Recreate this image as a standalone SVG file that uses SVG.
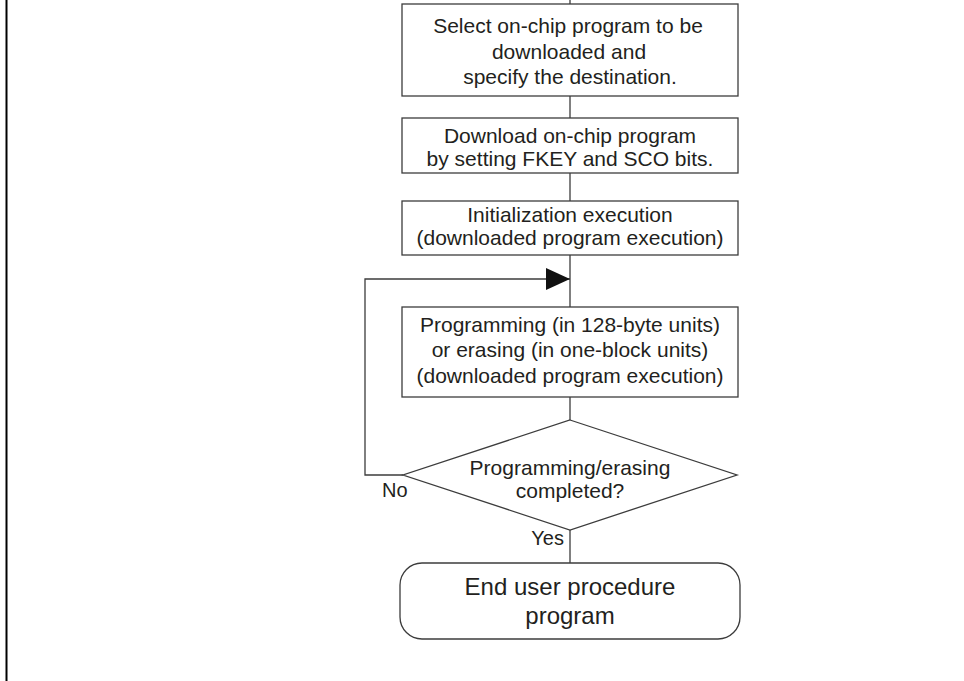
<svg xmlns="http://www.w3.org/2000/svg" width="964" height="681" viewBox="0 0 964 681">
<defs>
<style>
.box{fill:#fff;stroke:#3c3c3c;stroke-width:1.3}
.ln{fill:none;stroke:#3c3c3c;stroke-width:1.3}
.t{font-family:"Liberation Sans",Arial,sans-serif;font-size:21px;fill:#231f20;text-anchor:middle}
.lbl{font-family:"Liberation Sans",Arial,sans-serif;font-size:20px;fill:#231f20}
</style>
<marker id="arr" markerUnits="userSpaceOnUse" markerWidth="24" markerHeight="22" refX="24" refY="11" orient="auto">
<path d="M0,0 L24,11 L0,22 Z" fill="#111"/>
</marker>
</defs>
<rect width="964" height="681" fill="#fff"/>
<line x1="6.5" y1="0" x2="6.5" y2="681" stroke="#000" stroke-width="2"/>
<g id="connectors">
<line class="ln" x1="570" y1="0" x2="570" y2="4"/>
<line class="ln" x1="570" y1="96" x2="570" y2="118"/>
<line class="ln" x1="570" y1="173" x2="570" y2="201"/>
<line class="ln" x1="570" y1="255" x2="570" y2="307"/>
<line class="ln" x1="570" y1="397" x2="570" y2="420"/>
<line class="ln" x1="570" y1="530" x2="570" y2="563"/>
<polyline class="ln" points="403,475 365,475 365,279 570,279" marker-end="url(#arr)"/>
<text class="lbl" x="382" y="497">No</text>
<text class="lbl" x="564" y="545" text-anchor="end">Yes</text>
</g>
<g id="n1">
<rect class="box" x="402" y="4" width="336" height="92"/>
<text class="t" x="568" y="32.5">Select on-chip program to be</text>
<text class="t" x="569" y="58.5">downloaded and</text>
<text class="t" x="570" y="83.5">specify the destination.</text>
</g>
<g id="n2">
<rect class="box" x="402" y="118" width="336" height="55"/>
<text class="t" x="570" y="143">Download on-chip program</text>
<text class="t" x="570" y="166">by setting FKEY and SCO bits.</text>
</g>
<g id="n3">
<rect class="box" x="402" y="201" width="336" height="54"/>
<text class="t" x="570" y="222">Initialization execution</text>
<text class="t" x="570" y="245">(downloaded program execution)</text>
</g>
<g id="n4">
<rect class="box" x="402" y="307" width="336" height="90"/>
<text class="t" x="570" y="332">Programming (in 128-byte units)</text>
<text class="t" x="570" y="357">or erasing (in one-block units)</text>
<text class="t" x="570" y="383">(downloaded program execution)</text>
</g>
<g id="n5">
<polygon class="box" points="570,420 737,475 570,530 403,475"/>
<text class="t" x="570" y="475">Programming/erasing</text>
<text class="t" x="570" y="498">completed?</text>
</g>
<g id="n6">
<rect class="box" x="400" y="563" width="340" height="76" rx="22" ry="22"/>
<text class="t" x="570" y="595" style="font-size:24px">End user procedure</text>
<text class="t" x="570" y="624" style="font-size:24px">program</text>
</g>
</svg>
